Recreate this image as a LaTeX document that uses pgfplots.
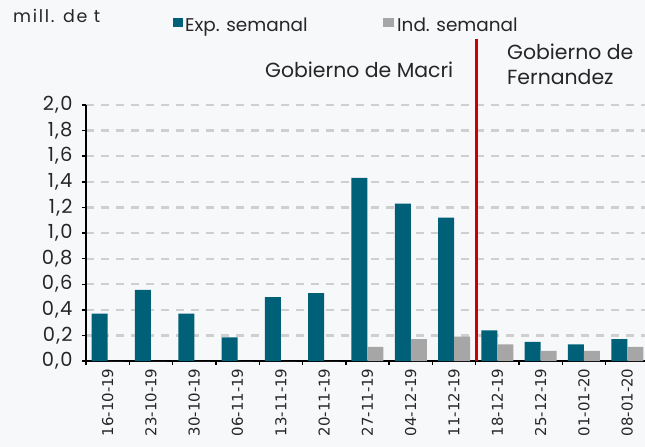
\documentclass[border=0pt]{standalone}
\usepackage{fontspec}
\setmainfont{Poppins}
\newfontfamily\datefont{DejaVu Sans}
\newfontfamily\spaced[LetterSpace=10]{Poppins}
\newfontfamily\tickfont[LetterSpace=6]{Poppins}
\usepackage{pgfplots}
\pgfplotsset{compat=1.18}
\definecolor{bg}{HTML}{F7F8FA}
\definecolor{tealb}{HTML}{006078}
\definecolor{grayb}{HTML}{A6A6A6}
\definecolor{gridc}{HTML}{CFCFCF}
\definecolor{redl}{HTML}{CC0000}
\begin{document}
\begin{tikzpicture}
\fill[bg] (-86bp,-86bp) rectangle (559bp,361bp);
\path[use as bounding box] (-86bp,-86bp) rectangle (559bp,361bp);
\begin{axis}[
  at={(0,0)}, anchor=south west,
  scale only axis, width=559bp, height=256bp,
  xmin=-0.5, xmax=12.41, ymin=0, ymax=2,
  axis x line*=bottom, axis y line*=left,
  axis line style={black, line width=1.4bp, -},
  ytick={0,0.2,0.4,0.6,0.8,1.0,1.2,1.4,1.6,1.8,2.0},
  /pgf/number format/.cd, fixed, fixed zerofill, precision=1, use comma, assume math mode=true,
  /pgfplots/.cd,
  yticklabel style={font=\tickfont\fontsize{19.5}{19.5}\selectfont, text=black!85, xshift=-6bp},
  ymajorgrids, major grid style={draw=gridc, line width=2.2bp, dash pattern=on 8bp off 7bp},
  tick align=outside, major tick length=4bp, minor tick length=4bp,
  major tick style={black, line width=1.4bp},
  minor tick style={black, line width=1.4bp},
  xtick={0,...,12},
  minor xtick={-0.5,0.5,1.5,2.5,3.5,4.5,5.5,6.5,7.5,8.5,9.5,10.5,11.5,12.5},
  xticklabels={16-10-19,23-10-19,30-10-19,06-11-19,13-11-19,20-11-19,27-11-19,04-12-19,11-12-19,18-12-19,25-12-19,01-01-20,08-01-20},
  xticklabel style={rotate=90, anchor=east, font=\datefont\fontsize{15}{15}\selectfont, text=black!85},
  major x tick style={draw=none},
  ybar=0pt, bar width=16bp,
]
\addplot[fill=tealb, draw=none] coordinates {
 (0,0.37) (1,0.555) (2,0.37) (3,0.185) (4,0.50) (5,0.53) (6,1.43) (7,1.23) (8,1.12) (9,0.24) (10,0.15) (11,0.13) (12,0.17)};
\addplot[fill=grayb, draw=none] coordinates {
 (0,0) (1,0) (2,0) (3,0) (4,0) (5,0) (6,0.11) (7,0.17) (8,0.19) (9,0.13) (10,0.08) (11,0.08) (12,0.11)};
\end{axis}
\draw[draw=redl, line width=2.2bp] (390.5bp,0bp) -- (390.5bp,322bp);
\node[anchor=base west, inner sep=0pt, font=\spaced\fontsize{17.5}{17.5}\selectfont, text=black!85] at (-73bp,338bp) {mill. de t};
\fill[tealb] (87bp,334bp) rectangle (97bp,343bp);
\node[anchor=base west, inner sep=0pt, font=\fontsize{18.5}{18.5}\selectfont, text=black!85] at (99bp,329bp) {Exp. semanal};
\fill[grayb] (297bp,334bp) rectangle (308bp,343bp);
\node[anchor=base west, inner sep=0pt, font=\fontsize{18.5}{18.5}\selectfont, text=black!85] at (311bp,329bp) {Ind. semanal};
\node[anchor=base west, inner sep=0pt, font=\fontsize{20.5}{20.5}\selectfont, text=black!85] at (179bp,283bp) {Gobierno de Macri};
\node[anchor=base west, inner sep=0pt, font=\fontsize{20.5}{20.5}\selectfont, text=black!85] at (421bp,301bp) {Gobierno de};
\node[anchor=base west, inner sep=0pt, font=\fontsize{20.5}{20.5}\selectfont, text=black!85] at (421bp,276bp) {Fernandez};
\end{tikzpicture}
\end{document}
